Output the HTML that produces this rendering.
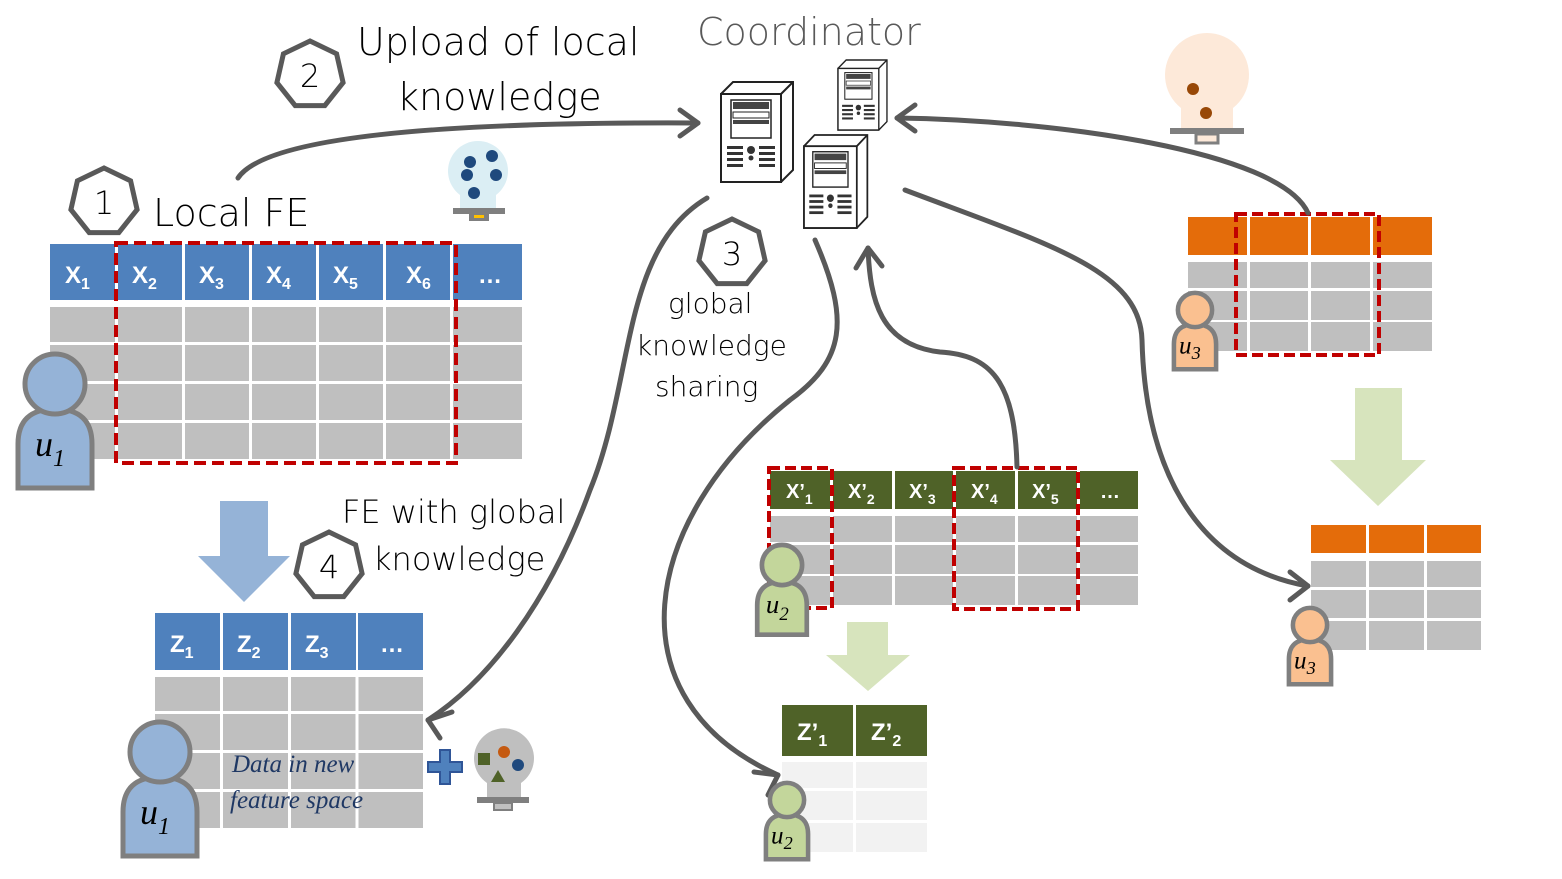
<!DOCTYPE html>
<html><head><meta charset="utf-8"><style>
html,body{margin:0;padding:0;background:#fff;}
svg{display:block;}
.h{font-family:"DejaVu Sans","Liberation Sans",sans-serif;font-weight:300;}
.hw{font-family:"Liberation Serif",serif;font-style:italic;}
.w{font-family:"Liberation Sans",sans-serif;font-weight:bold;fill:#fff;}
</style></head><body>
<svg width="1562" height="879" viewBox="0 0 1562 879" xmlns="http://www.w3.org/2000/svg">
<defs>
<g id="hept"><polygon points="0,-34 26.6,-21.2 33.1,7.6 14.8,30.6 -14.8,30.6 -33.1,7.6 -26.6,-21.2" fill="#fff" stroke="#595959" stroke-width="5"/></g>
<g id="server">
<polygon points="0,12 12,0 72,0 72,88 60,100 0,100" fill="#fff" stroke="#222" stroke-width="2"/>
<line x1="60" y1="12" x2="72" y2="0" stroke="#222" stroke-width="2"/>
<rect x="0" y="12" width="60" height="88" fill="#fff" stroke="#222" stroke-width="2"/>
<rect x="10" y="18" width="40" height="38" fill="#fff" stroke="#222" stroke-width="1.5"/>
<rect x="12" y="20" width="36" height="7" fill="#444"/>
<rect x="12" y="30" width="36" height="6" fill="#fff" stroke="#222"/>
<rect x="12" y="38" width="36" height="4" fill="#444"/>
<g fill="#333"><rect x="6" y="64" width="16" height="3"/><rect x="6" y="70" width="16" height="3"/><rect x="6" y="76" width="16" height="3"/><rect x="6" y="82" width="16" height="3"/><rect x="38" y="64" width="16" height="3"/><rect x="38" y="70" width="16" height="3"/><rect x="38" y="76" width="16" height="3"/><rect x="38" y="82" width="16" height="3"/><circle cx="30" cy="68" r="4"/><circle cx="30" cy="76" r="2.5"/></g>
</g>
</defs>

<!-- Text labels -->
<text x="697" y="45" class="h" font-size="38" fill="#595959">Coordinator</text>
<text x="357" y="55" class="h" font-size="38" fill="#000">Upload of local</text>
<text x="397" y="110" class="h" font-size="38" fill="#000">knowledge</text>
<text x="153" y="226" class="h" font-size="38" fill="#000">Local FE</text>
<text x="668" y="313" class="h" font-size="28" fill="#000">global</text>
<text x="636" y="355" class="h" font-size="28" fill="#000">knowledge</text>
<text x="655" y="396" class="h" font-size="28" fill="#000">sharing</text>
<text x="342" y="523" class="h" font-size="32" fill="#000">FE with global</text>
<text x="373" y="570" class="h" font-size="32" fill="#000">knowledge</text>

<!-- hexagons -->
<use href="#hept" x="104" y="202"/><text x="104" y="214" text-anchor="middle" class="h" font-size="32">1</text>
<use href="#hept" x="310" y="75"/><text x="310" y="87" text-anchor="middle" class="h" font-size="32">2</text>
<use href="#hept" x="732" y="253"/><text x="732" y="265" text-anchor="middle" class="h" font-size="32">3</text>
<use href="#hept" x="329" y="566"/><text x="329" y="578" text-anchor="middle" class="h" font-size="32">4</text>

<!-- Table 1 -->
<g fill="#4f81bd">
<rect x="50" y="244" width="65" height="56"/><rect x="118" y="244" width="64" height="56"/><rect x="185" y="244" width="64" height="56"/><rect x="252" y="244" width="64" height="56"/><rect x="319" y="244" width="64" height="56"/><rect x="386" y="244" width="64" height="56"/><rect x="453" y="244" width="69" height="56"/>
</g>
<g fill="#bfbfbf">
<rect x="50" y="307" width="472" height="35"/><rect x="50" y="345" width="472" height="36"/><rect x="50" y="384" width="472" height="36"/><rect x="50" y="423" width="472" height="36"/>
</g>
<g stroke="#fff" stroke-width="3"><line x1="116.5" y1="307" x2="116.5" y2="460"/><line x1="183.5" y1="307" x2="183.5" y2="460"/><line x1="250.5" y1="307" x2="250.5" y2="460"/><line x1="317.5" y1="307" x2="317.5" y2="460"/><line x1="384.5" y1="307" x2="384.5" y2="460"/><line x1="451.5" y1="307" x2="451.5" y2="460"/></g>
<g class="w" font-size="24">
<text x="65" y="283">X<tspan font-size="16" dy="6">1</tspan></text>
<text x="132" y="283">X<tspan font-size="16" dy="6">2</tspan></text>
<text x="199" y="283">X<tspan font-size="16" dy="6">3</tspan></text>
<text x="266" y="283">X<tspan font-size="16" dy="6">4</tspan></text>
<text x="333" y="283">X<tspan font-size="16" dy="6">5</tspan></text>
<text x="406" y="283">X<tspan font-size="16" dy="6">6</tspan></text>
<text x="478" y="283">…</text>
</g>
<rect x="116" y="243" width="340" height="220" fill="none" stroke="#c00000" stroke-width="4" stroke-dasharray="12,6"/>

<!-- Z table -->
<g fill="#4f81bd"><rect x="155" y="613" width="65" height="57"/><rect x="223" y="613" width="65" height="57"/><rect x="291" y="613" width="65" height="57"/><rect x="358" y="613" width="65" height="57"/></g>
<g fill="#bfbfbf"><rect x="155" y="677" width="268" height="34"/><rect x="155" y="714" width="268" height="36"/><rect x="155" y="753" width="268" height="36"/><rect x="155" y="792" width="268" height="36"/></g>
<g stroke="#fff" stroke-width="3"><line x1="221.5" y1="677" x2="221.5" y2="828"/><line x1="289.5" y1="677" x2="289.5" y2="828"/><line x1="357" y1="677" x2="357" y2="828"/></g>
<g class="w" font-size="24"><text x="170" y="652">Z<tspan font-size="16" dy="6">1</tspan></text><text x="237" y="652">Z<tspan font-size="16" dy="6">2</tspan></text><text x="305" y="652">Z<tspan font-size="16" dy="6">3</tspan></text><text x="380" y="652">…</text></g>
<text x="232" y="772" class="hw" font-size="25" fill="#1f3864">Data in new</text>
<text x="230" y="808" class="hw" font-size="25" fill="#1f3864">feature space</text>

<!-- green table -->
<g fill="#4f6228"><rect x="770" y="471" width="60" height="38"/><rect x="833" y="471" width="59" height="38"/><rect x="895" y="471" width="58" height="38"/><rect x="956" y="471" width="59" height="38"/><rect x="1018" y="471" width="59" height="38"/><rect x="1080" y="471" width="58" height="38"/></g>
<g fill="#bfbfbf"><rect x="770" y="516" width="368" height="26"/><rect x="770" y="545" width="368" height="29"/><rect x="770" y="576" width="368" height="29"/></g>
<g stroke="#fff" stroke-width="3"><line x1="831.5" y1="516" x2="831.5" y2="605"/><line x1="893.5" y1="516" x2="893.5" y2="605"/><line x1="954.5" y1="516" x2="954.5" y2="605"/><line x1="1016.5" y1="516" x2="1016.5" y2="605"/><line x1="1078.5" y1="516" x2="1078.5" y2="605"/></g>
<g class="w" font-size="20"><text x="786" y="498">X’<tspan font-size="14" dy="6">1</tspan></text><text x="848" y="498">X’<tspan font-size="14" dy="6">2</tspan></text><text x="909" y="498">X’<tspan font-size="14" dy="6">3</tspan></text><text x="971" y="498">X’<tspan font-size="14" dy="6">4</tspan></text><text x="1032" y="498">X’<tspan font-size="14" dy="6">5</tspan></text><text x="1100" y="498">…</text></g>
<rect x="769" y="468" width="63" height="140" fill="none" stroke="#c00000" stroke-width="4" stroke-dasharray="11,5"/>
<rect x="954" y="468" width="124" height="141" fill="none" stroke="#c00000" stroke-width="4" stroke-dasharray="11,5"/>

<!-- Z' table -->
<g fill="#4f6228"><rect x="782" y="705" width="71" height="51"/><rect x="856" y="705" width="71" height="51"/></g>
<g fill="#f2f2f2"><rect x="782" y="762" width="145" height="26"/><rect x="782" y="791" width="145" height="29"/><rect x="782" y="823" width="145" height="29"/></g>
<line x1="854.5" y1="762" x2="854.5" y2="852" stroke="#fff" stroke-width="3"/>
<g class="w" font-size="24"><text x="797" y="740">Z’<tspan font-size="16" dy="6">1</tspan></text><text x="871" y="740">Z’<tspan font-size="16" dy="6">2</tspan></text></g>

<!-- orange table 1 -->
<g fill="#e46c0a"><rect x="1188" y="217" width="59" height="38"/><rect x="1250" y="217" width="58" height="38"/><rect x="1311" y="217" width="59" height="38"/><rect x="1373" y="217" width="59" height="38"/></g>
<g fill="#bfbfbf"><rect x="1188" y="262" width="244" height="26"/><rect x="1188" y="291" width="244" height="29"/><rect x="1188" y="322" width="244" height="29"/></g>
<g stroke="#fff" stroke-width="3"><line x1="1248.5" y1="262" x2="1248.5" y2="351"/><line x1="1309.5" y1="262" x2="1309.5" y2="351"/><line x1="1371.5" y1="262" x2="1371.5" y2="351"/></g>
<rect x="1236" y="214" width="143" height="141" fill="none" stroke="#c00000" stroke-width="4" stroke-dasharray="11,5"/>

<!-- orange table 2 -->
<g fill="#e46c0a"><rect x="1311" y="525" width="55" height="28"/><rect x="1369" y="525" width="55" height="28"/><rect x="1427" y="525" width="54" height="28"/></g>
<g fill="#bfbfbf"><rect x="1311" y="561" width="170" height="26"/><rect x="1311" y="590" width="170" height="28"/><rect x="1311" y="621" width="170" height="29"/></g>
<g stroke="#fff" stroke-width="3"><line x1="1367.5" y1="561" x2="1367.5" y2="650"/><line x1="1425.5" y1="561" x2="1425.5" y2="650"/></g>

<!-- big arrows -->
<polygon points="220,501 268,501 268,556 290,556 244,602 198,556 220,556" fill="#95b3d7"/>
<polygon points="1355,388 1402,388 1402,460 1426,460 1378,506 1330,460 1355,460" fill="#d7e4bd"/>
<polygon points="847,622 888,622 888,655 910,655 868,691 826,655 847,655" fill="#d7e4bd"/>

<!-- servers -->
<use href="#server" x="721" y="82"/>
<use href="#server" transform="translate(838,60) scale(0.68,0.7)"/>
<use href="#server" transform="translate(804,135) scale(0.88,0.93)"/>

<!-- connectors -->
<g fill="none" stroke="#595959" stroke-width="5" stroke-linecap="round" stroke-linejoin="round">
<path d="M238,178 C270,130 500,122 698,123"/>
<path d="M680,110 L698,123 L680,136"/>
<path d="M1308,213 C1280,150 1050,120 897,118"/>
<path d="M915,105 L897,118 L915,131"/>
<path d="M707,198 C620,250 635,380 590,490 C550,600 490,680 428,720"/>
<path d="M452,712 L428,720 L440,738"/>
<path d="M815,240 C850,320 845,360 790,400 C640,520 610,700 778,775"/>
<path d="M754,772 L778,775 L768,795"/>
<path d="M1017,467 C1015,380 990,355 940,352 C880,345 870,300 868,248"/>
<path d="M856,268 L868,248 L882,266"/>
<path d="M905,190 C1050,245 1140,270 1142,340 C1145,460 1190,565 1308,586"/>
<path d="M1290,572 L1308,586 L1290,600"/>
</g>

<!-- bulbs -->
<g>
<path d="M460,195 A30,30 0 1 1 496,195 L496,208 L460,208 Z" fill="#dbeef4"/>
<rect x="453" y="208" width="52" height="6" fill="#7f7f7f"/><rect x="469" y="214" width="20" height="7" fill="#7f7f7f"/><rect x="474" y="215" width="10" height="3" fill="#ffc000"/>
<g fill="#1f497d"><circle cx="470" cy="162" r="6"/><circle cx="492" cy="156" r="6"/><circle cx="467" cy="175" r="6"/><circle cx="496" cy="175" r="6"/><circle cx="474" cy="193" r="6"/></g>
</g>
<g>
<path d="M1181,108 A42,42 0 1 1 1233,108 L1233,128 L1181,128 Z" fill="#fde9d9"/>
<rect x="1170" y="128" width="74" height="6" fill="#7f7f7f"/><rect x="1196" y="134" width="22" height="9" fill="#fde9d9" stroke="#7f7f7f" stroke-width="3"/>
<circle cx="1193" cy="89" r="6" fill="#984807"/><circle cx="1206" cy="113" r="6" fill="#984807"/>
</g>
<g>
<path d="M487,783 A30,30 0 1 1 521,783 L521,797 L487,797 Z" fill="#bfbfbf"/>
<rect x="477" y="797" width="52" height="6" fill="#7f7f7f"/><rect x="494" y="803" width="18" height="7" fill="#bfbfbf" stroke="#7f7f7f" stroke-width="2"/>
<rect x="478" y="753" width="12" height="12" fill="#4f6228"/><circle cx="504" cy="752" r="6" fill="#c55a11"/><circle cx="518" cy="765" r="6" fill="#1f497d"/><polygon points="498,770 505,782 491,782" fill="#4f6228"/>
</g>
<!-- plus -->
<path d="M440,750 h10 v12 h12 v10 h-12 v12 h-10 v-12 h-12 v-10 h12 z" fill="#4f81bd" stroke="#2f5597" stroke-width="2"/>

<!-- users -->
<g transform="translate(55,384)"><path d="M-37,104 L-37,60 Q-37,25 0,25 Q37,25 37,60 L37,104 Z" fill="#95b3d7" stroke="#7f7f7f" stroke-width="5"/><circle r="30" fill="#95b3d7" stroke="#7f7f7f" stroke-width="5"/><text x="-20" y="72" class="hw" font-size="36">u<tspan font-size="24" dy="10">1</tspan></text></g>
<g transform="translate(160,752)"><path d="M-37,104 L-37,60 Q-37,25 0,25 Q37,25 37,60 L37,104 Z" fill="#95b3d7" stroke="#7f7f7f" stroke-width="5"/><circle r="30" fill="#95b3d7" stroke="#7f7f7f" stroke-width="5"/><text x="-20" y="72" class="hw" font-size="36">u<tspan font-size="24" dy="10">1</tspan></text></g>
<g transform="translate(782,565) scale(0.67)"><path d="M-37,104 L-37,60 Q-37,25 0,25 Q37,25 37,60 L37,104 Z" fill="#c3d69b" stroke="#7f7f7f" stroke-width="7"/><circle r="30" fill="#c3d69b" stroke="#7f7f7f" stroke-width="7"/><text x="-24" y="72" class="hw" font-size="40">u<tspan font-size="28" dy="10">2</tspan></text></g>
<g transform="translate(787,800) scale(0.57)"><path d="M-37,104 L-37,60 Q-37,25 0,25 Q37,25 37,60 L37,104 Z" fill="#c3d69b" stroke="#7f7f7f" stroke-width="8"/><circle r="30" fill="#c3d69b" stroke="#7f7f7f" stroke-width="8"/><text x="-28" y="76" class="hw" font-size="44">u<tspan font-size="32" dy="10">2</tspan></text></g>
<g transform="translate(1195,310) scale(0.57)"><path d="M-37,104 L-37,60 Q-37,25 0,25 Q37,25 37,60 L37,104 Z" fill="#fac090" stroke="#7f7f7f" stroke-width="8"/><circle r="30" fill="#fac090" stroke="#7f7f7f" stroke-width="8"/><text x="-28" y="76" class="hw" font-size="44">u<tspan font-size="32" dy="10">3</tspan></text></g>
<g transform="translate(1310,625) scale(0.57)"><path d="M-37,104 L-37,60 Q-37,25 0,25 Q37,25 37,60 L37,104 Z" fill="#fac090" stroke="#7f7f7f" stroke-width="8"/><circle r="30" fill="#fac090" stroke="#7f7f7f" stroke-width="8"/><text x="-28" y="76" class="hw" font-size="44">u<tspan font-size="32" dy="10">3</tspan></text></g>
</svg>
</body></html>
